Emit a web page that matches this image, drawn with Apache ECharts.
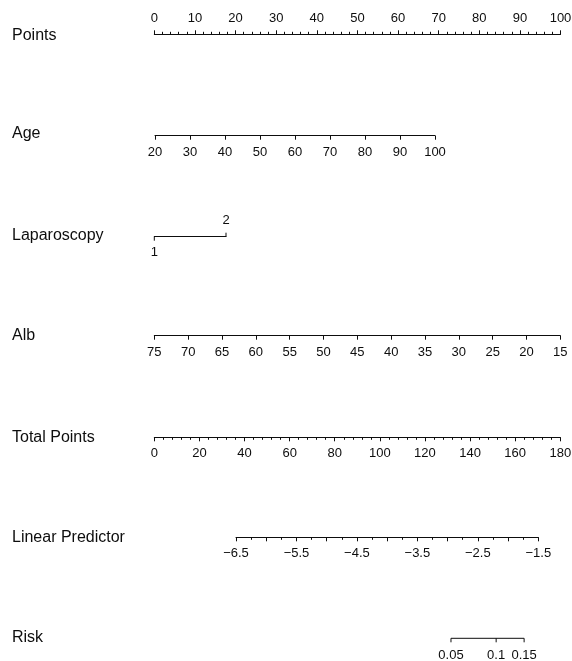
<!DOCTYPE html>
<html>
<head>
<meta charset="utf-8">
<script src="https://cdn.jsdelivr.net/npm/echarts@6/dist/echarts.min.js"></script>
<style>html,body{margin:0;padding:0;background:#fff}#c{width:572px;height:661px}</style>
</head>
<body>
<div id="c"></div>
<script>
// ---- data ----
const rowLabels = ['Points', 'Age', 'Laparoscopy', 'Alb', 'Total Points', 'Linear Predictor', 'Risk'];
const pointsRange = [0, 100];      const pointsStep = 10;
const ageRange = [20, 100];        const ageStep = 10;
const laparoscopyValues = [1, 2];  const laparoscopyLabels = ['1', '2'];
const albRange = [15, 75];         const albStep = 5;   // drawn reversed: 75 -> 15
const totalRange = [0, 180];       const totalStep = 20;
const lpRange = [-6.5, -1.5];      const lpStep = 0.5;
const lpLabelValues = [-6.5, -5.5, -4.5, -3.5, -2.5, -1.5];
const riskTicks = [0.05, 0.1, 0.15];

// ---- layout ----
const FONT = 'Liberation Sans, Arial, sans-serif';
const INK = '#0d0d0d';
const layout = {
  points: { x0: 154.3, x1: 560.5, y: 34.3, top: true },
  age:    { x0: 155.0, x1: 435.0, y: 135.7 },
  lap:    { x0: 154.3, x1: 226.0, y: 236.7 },
  alb:    { x0: 154.3, x1: 560.3, y: 335.7 },
  total:  { x0: 154.3, x1: 560.3, y: 437.3 },
  lp:     { x0: 236.0, x1: 538.3, y: 537.3 },
  risk:   { x0: 236.0, x1: 538.3, y: 638.3 }
};
const labelY = [35.5, 133.5, 235.5, 335.5, 438, 537.5, 637.5];
const order = ['points', 'age', 'lap', 'alb', 'total', 'lp', 'risk'];

const grids = order.map(k => {
  const l = layout[k];
  return { left: l.x0, width: l.x1 - l.x0, top: l.top ? l.y : l.y - 10, height: 10,
           containLabel: false, outerBoundsMode: 'none' };
});
const lineStyle = { color: INK, width: 1 };
const baseAxis = (i, extra) => Object.assign({
  type: 'value', gridIndex: i,
  axisLine: { show: true, onZero: false, lineStyle },
  axisTick: { show: true, length: 4, lineStyle },
  minorTick: { show: false },
  splitLine: { show: false }, minorSplitLine: { show: false },
  axisLabel: { color: INK, fontSize: 13, fontFamily: FONT, margin: 10, hideOverlap: false },
  axisPointer: { show: false }
}, extra);

const xAxes = [
  baseAxis(0, { position: 'top', min: pointsRange[0], max: pointsRange[1], interval: pointsStep,
    minorTick: { show: true, splitNumber: 5, length: 2.5, lineStyle },
    axisLabel: { color: INK, fontSize: 13, fontFamily: FONT, margin: 9 } }),
  baseAxis(1, { min: ageRange[0], max: ageRange[1], interval: ageStep }),
  baseAxis(2, { min: laparoscopyValues[0], max: laparoscopyValues[1], interval: 1,
    axisTick: { show: false }, axisLabel: { show: false } }),
  baseAxis(3, { min: albRange[0], max: albRange[1], interval: albStep, inverse: true }),
  baseAxis(4, { min: totalRange[0], max: totalRange[1], interval: totalStep,
    minorTick: { show: true, splitNumber: 5, length: 2.5, lineStyle } }),
  baseAxis(5, { min: lpRange[0], max: lpRange[1], interval: lpStep,
    minorTick: { show: true, splitNumber: 2, length: 2.5, lineStyle },
    axisLabel: { color: INK, fontSize: 13, fontFamily: FONT, margin: 10,
      formatter: v => lpLabelValues.some(t => Math.abs(t - v) < 1e-6) ? String(v).replace('-', '\u2212') : '' } }),
  baseAxis(6, { min: lpRange[0], max: lpRange[1], show: false })
];
const yAxes = order.map((k, i) => ({ type: 'value', gridIndex: i, min: 0, max: 1, show: false }));

const textStyle = (t, x, y) => ({ text: t, x, y, fill: INK, font: '13px ' + FONT,
  align: 'center', verticalAlign: 'middle', textAlign: 'center', textVerticalAlign: 'middle' });

const series = [
  {
    type: 'custom', xAxisIndex: 2, yAxisIndex: 2, clip: false, silent: true,
    data: laparoscopyValues.map((v, i) => [v, 0, i]),
    renderItem: (params, api) => {
      const p = api.coord([api.value(0), 0]);
      const i = api.value(2);
      const dir = i === 0 ? 1 : -1;
      return { type: 'group', children: [
        { type: 'line', shape: { x1: p[0], y1: p[1], x2: p[0], y2: p[1] + dir * 4 }, style: { stroke: INK, lineWidth: 1 } },
        { type: 'text', style: textStyle(laparoscopyLabels[i], p[0], p[1] + dir * 16) }
      ] };
    }
  },
  {
    type: 'custom', xAxisIndex: 6, yAxisIndex: 6, clip: false, silent: true,
    data: riskTicks.map((r, i) => [Math.log(r / (1 - r)), 0, i]),
    renderItem: (params, api) => {
      const p = api.coord([api.value(0), 0]);
      const i = api.value(2);
      const children = [
        { type: 'line', shape: { x1: p[0], y1: p[1], x2: p[0], y2: p[1] + 4 }, style: { stroke: INK, lineWidth: 1 } },
        { type: 'text', style: textStyle(String(riskTicks[i]), p[0], p[1] + 17) }
      ];
      if (i === 0) {
        const last = riskTicks[riskTicks.length - 1];
        const q = api.coord([Math.log(last / (1 - last)), 0]);
        children.push({ type: 'line', shape: { x1: p[0], y1: p[1], x2: q[0], y2: q[1] }, style: { stroke: INK, lineWidth: 1 } });
      }
      return { type: 'group', children };
    }
  }
];

const graphic = rowLabels.map((t, i) => ({
  type: 'text', x: 12, y: labelY[i], silent: true,
  style: { text: t, fill: INK, font: '16px ' + FONT, align: 'left', verticalAlign: 'middle',
           textAlign: 'left', textVerticalAlign: 'middle' }
}));

const chart = echarts.init(document.getElementById('c'), null, { renderer: 'canvas' });
chart.setOption({
  animation: false,
  backgroundColor: '#fff',
  grid: grids, xAxis: xAxes, yAxis: yAxes, series, graphic
});
</script>
</body>
</html>
